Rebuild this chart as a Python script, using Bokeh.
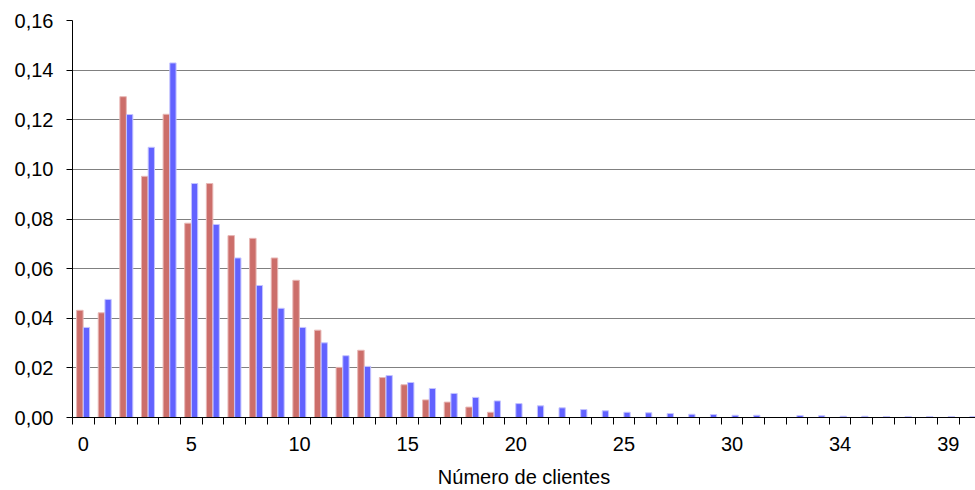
from bokeh.plotting import figure
from bokeh.models import Range1d, FixedTicker, CustomJSTickFormatter, ColumnDataSource
from bokeh.embed import file_html
from bokeh.resources import INLINE

# categories (x axis names); one empty slot between 31 and 32
categories = [str(i) for i in range(0, 32)] + [""] + [str(i) for i in range(32, 41)]

serie_roja = [0.0432, 0.0422, 0.1293, 0.0972, 0.1222, 0.0783, 0.0943, 0.0733, 0.0722, 0.0643,
              0.0553, 0.0352, 0.0202, 0.0271, 0.0161, 0.0132, 0.0071, 0.0062, 0.0042, 0.0021,
              0, 0, 0, 0, 0, 0, 0, 0, 0, 0,
              0, 0, 0, 0, 0, 0, 0, 0, 0, 0,
              0, 0]
serie_azul = [0.0363, 0.0476, 0.1221, 0.1089, 0.1429, 0.0943, 0.0778, 0.0643, 0.0532, 0.0440,
              0.0363, 0.0301, 0.0249, 0.0206, 0.0169, 0.0141, 0.0117, 0.0097, 0.0081, 0.0067,
              0.0056, 0.0047, 0.0039, 0.0032, 0.0027, 0.0021, 0.0019, 0.0016, 0.0013, 0.0012,
              0.0009, 0.0009, 0.0, 0.0008, 0.0007, 0.0005, 0.0005, 0.0004, 0.0004, 0.0004,
              0.0004, 0.0004]

y_ticks = [0.0, 0.02, 0.04, 0.06, 0.08, 0.10, 0.12, 0.14, 0.16]

idx = list(range(len(categories)))
src = ColumnDataSource(dict(
    x_r=[i - 0.16 for i in idx],
    x_b=[i + 0.145 for i in idx],
    roja=serie_roja,
    azul=serie_azul,
))

FONT = "Liberation Sans"

p = figure(width=975, height=490, output_backend="svg", toolbar_location=None,
           x_range=Range1d(-0.5, 41.26), y_range=Range1d(0, 0.16),
           min_border_left=72, min_border_top=20, min_border_right=0, min_border_bottom=40)
p.outline_line_color = None

p.vbar(x="x_r", top="roja", width=0.3, source=src, fill_color="#CC6E6A",
       line_color="#E8B8B6", line_width=1)
p.vbar(x="x_b", top="azul", width=0.29, source=src, fill_color="#6262FF",
       line_color="#C4C4FF", line_width=1)

# x axis
label_pos = list(range(0, len(categories), 5))
xa = p.xaxis[0]
xa.ticker = FixedTicker(ticks=label_pos, minor_ticks=[i - 0.5 for i in range(len(categories) + 1)])
xa.major_label_overrides = {i: categories[i] for i in label_pos}
xa.major_tick_out = 0
xa.major_tick_in = 0
xa.minor_tick_out = 7
xa.minor_tick_in = 0
xa.minor_tick_line_color = "black"
xa.axis_line_color = "black"
xa.major_label_text_font = FONT
xa.major_label_text_font_size = "20px"
xa.major_label_text_color = "black"
xa.major_label_standoff = 12
xa.axis_label = "Número de clientes"
xa.axis_label_text_font = FONT
xa.axis_label_text_font_size = "20px"
xa.axis_label_text_font_style = "normal"
xa.axis_label_text_color = "black"
xa.axis_label_standoff = 12

# y axis
ya = p.yaxis[0]
ya.ticker = FixedTicker(ticks=y_ticks, minor_ticks=[])
ya.formatter = CustomJSTickFormatter(code="return tick.toFixed(2).replace('.', ',');")
ya.major_tick_out = 6
ya.major_tick_in = 0
ya.minor_tick_out = 0
ya.minor_tick_in = 0
ya.major_tick_line_color = "black"
ya.axis_line_color = "black"
ya.major_label_text_font = FONT
ya.major_label_text_font_size = "20px"
ya.major_label_text_color = "black"
ya.major_label_standoff = 13

p.xgrid.grid_line_color = None
p.ygrid.ticker = FixedTicker(ticks=y_ticks[1:])
p.ygrid.grid_line_color = "black"
p.ygrid.grid_line_dash = "1 1"
p.ygrid.grid_line_width = 1
p.ygrid.grid_line_alpha = 1.0

open("out.html", "w").write(file_html(p, INLINE))
